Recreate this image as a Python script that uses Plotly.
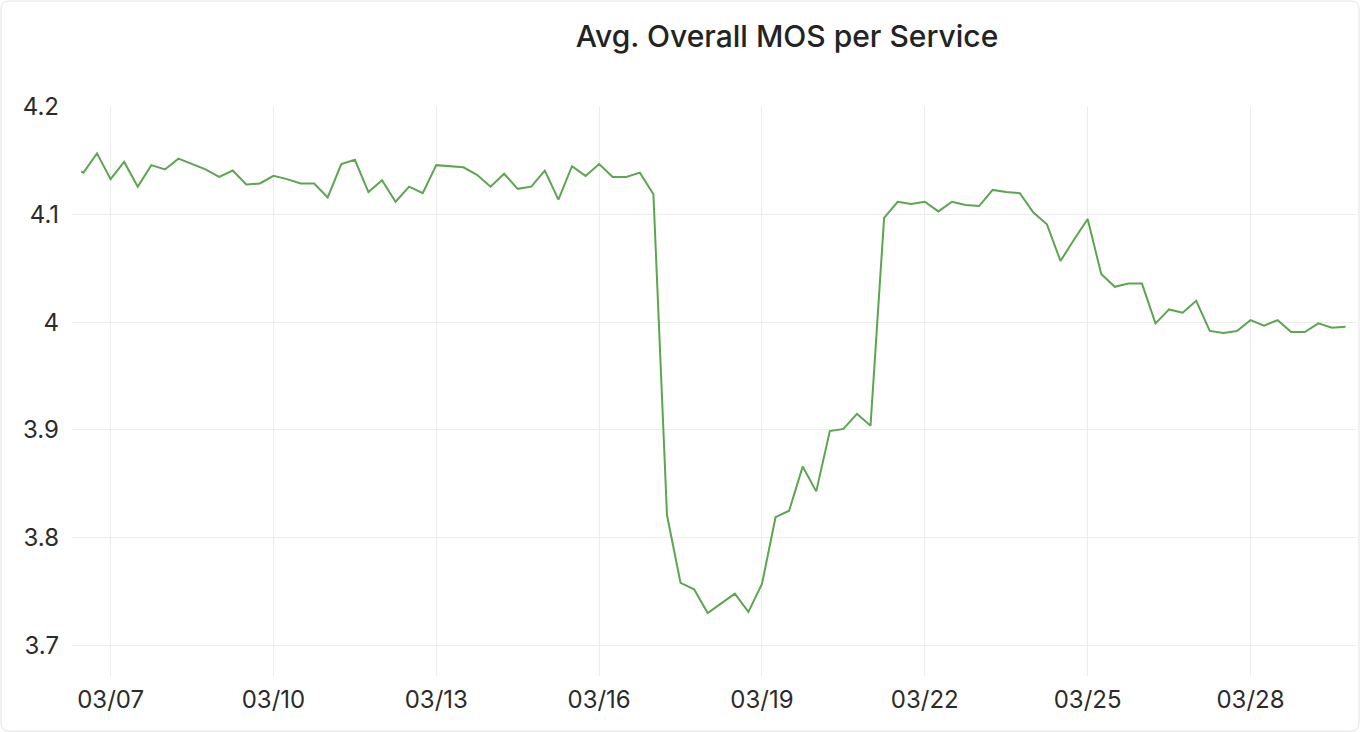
import pandas as pd
import plotly.graph_objects as go

# ---- data ----
first_time = ["2024-03-06 11:00"]
first_value = [4.140]
start_time = "2024-03-06 12:00"
step = "6h"
mos_values = [
    4.139, 4.157, 4.133, 4.149, 4.126, 4.146, 4.142, 4.152, 4.147, 4.142,
    4.135, 4.141, 4.128, 4.129, 4.136, 4.133, 4.129, 4.129, 4.116, 4.147,
    4.151, 4.121, 4.132, 4.112, 4.126, 4.120, 4.146,
    4.145, 4.144, 4.137, 4.126, 4.138, 4.124, 4.126, 4.141, 4.114, 4.145,
    4.136, 4.147, 4.135, 4.135, 4.139, 4.119,
    3.821, 3.758, 3.752, 3.730, 3.739, 3.748, 3.731, 3.757, 3.819, 3.825,
    3.866, 3.843, 3.899, 3.901, 3.915, 3.904,
    4.097, 4.112, 4.110, 4.112, 4.103, 4.112, 4.109, 4.108, 4.123, 4.121,
    4.120, 4.102, 4.091, 4.057, 4.077, 4.096,
    4.045, 4.033, 4.036, 4.036, 3.999, 4.012, 4.009, 4.020, 3.992, 3.990,
    3.992, 4.002, 3.997, 4.002, 3.991, 3.991, 3.999, 3.995, 3.996,
]
y_ticks = [3.7, 3.8, 3.9, 4.0, 4.1, 4.2]
y_tick_labels = ["3.7", "3.8", "3.9", "4", "4.1", "4.2"]
title_text = "Avg. Overall MOS per Service"

times = list(pd.to_datetime(first_time)) + list(
    pd.date_range(start_time, periods=len(mos_values), freq=step)
)
values = first_value + mos_values

# ---- layout geometry (pixels) ----
W, H = 1360, 732
L, R, T, B = 72, 4, 107, 56
pw, ph = W - L - R, H - T - B


def px(x):
    return (x - L) / pw


def py(y):
    return (H - B - y) / ph


fig = go.Figure()
fig.add_trace(
    go.Scatter(
        x=times,
        y=values,
        mode="lines",
        line=dict(color="#5ba64f", width=2),
        hoverinfo="x+y",
        showlegend=False,
    )
)

# card border with rounded corners
x0, x1, y0, y1, r = 1, 1359, 1, 731, 8
path = (
    f"M {px(x0 + r)} {py(y0)} L {px(x1 - r)} {py(y0)} "
    f"Q {px(x1)} {py(y0)} {px(x1)} {py(y0 + r)} "
    f"L {px(x1)} {py(y1 - r)} Q {px(x1)} {py(y1)} {px(x1 - r)} {py(y1)} "
    f"L {px(x0 + r)} {py(y1)} Q {px(x0)} {py(y1)} {px(x0)} {py(y1 - r)} "
    f"L {px(x0)} {py(y0 + r)} Q {px(x0)} {py(y0)} {px(x0 + r)} {py(y0)} Z"
)

fig.update_layout(
    width=W,
    height=H,
    margin=dict(l=L, r=R, t=T, b=B),
    paper_bgcolor="white",
    plot_bgcolor="white",
    font=dict(family="Inter, Roboto, sans-serif", size=24, color="#2b2b2b"),
    title=dict(
        text=title_text,
        font=dict(family="Inter, sans-serif", size=30, color="#232323", weight=500),
        x=px(787),
        xref="paper",
        xanchor="center",
        y=1 - 36 / H,
        yref="container",
        yanchor="middle",
    ),
    shapes=[
        dict(
            type="path",
            path=path,
            xref="paper",
            yref="paper",
            line=dict(color="#e2e2e2", width=1),
            fillcolor="rgba(0,0,0,0)",
            layer="above",
        )
    ],
    xaxis=dict(
        type="date",
        range=["2024-03-06 06:56", "2024-03-29 22:39"],
        tick0="2024-03-07",
        dtick=3 * 86400000,
        tickformat="%m/%d",
        showgrid=True,
        gridcolor="#ececec",
        gridwidth=1,
        zeroline=False,
        showline=False,
        ticks="",
        ticklabelstandoff=7,
        tickfont=dict(size=24, color="#2b2b2b"),
    ),
    yaxis=dict(
        range=[3.6715, 4.2],
        tickvals=y_ticks,
        ticktext=y_tick_labels,
        showgrid=True,
        gridcolor="#ececec",
        gridwidth=1,
        zeroline=False,
        showline=False,
        ticks="",
        ticklabelstandoff=12,
        tickfont=dict(size=24, color="#2b2b2b"),
    ),
)

fig.write_html(
    "out.html",
    config={"displayModeBar": False},
    post_script="document.body.style.margin='0';document.body.style.overflow='hidden';",
)
